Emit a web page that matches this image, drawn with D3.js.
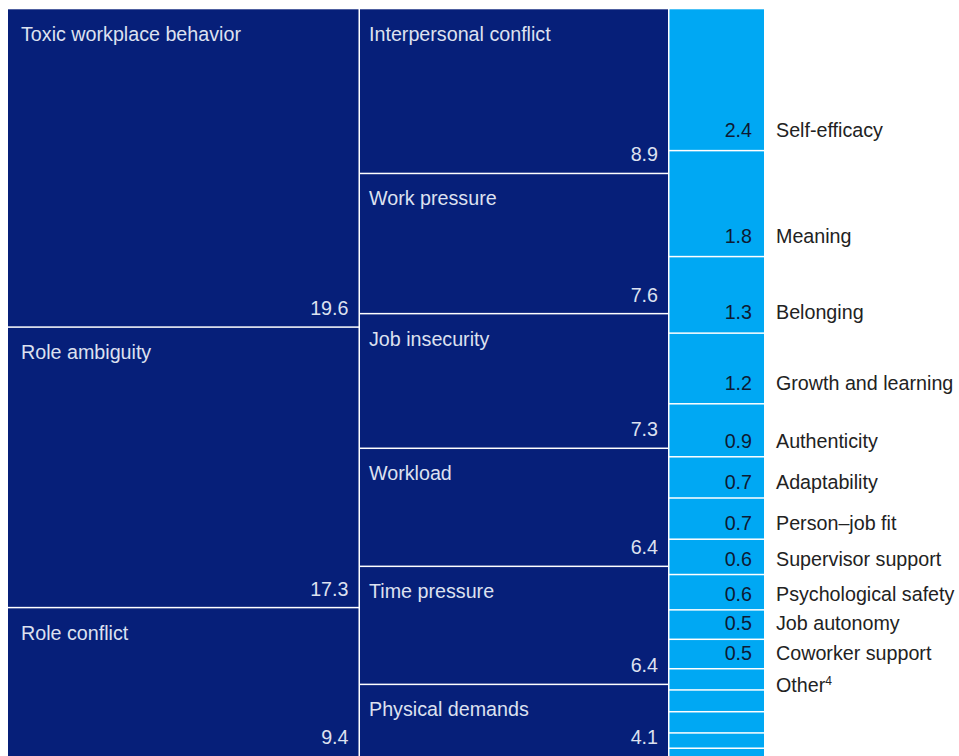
<!DOCTYPE html>
<html>
<head>
<meta charset="utf-8">
<script src="https://cdn.jsdelivr.net/npm/d3@7"></script>
<style>
  html, body { margin: 0; padding: 0; background: #ffffff; }
  svg { display: block; font-family: "Liberation Sans", Arial, sans-serif; }
</style>
</head>
<body>
<svg id="chart" width="959" height="756"></svg>
<script>
// Workplace stressors (left), job demands (middle) and resources (right)
const stressorNames  = ["Toxic workplace behavior", "Role ambiguity", "Role conflict"];
const stressorValues = [19.6, 17.3, 9.4];

const demandNames  = ["Interpersonal conflict", "Work pressure", "Job insecurity",
                      "Workload", "Time pressure", "Physical demands"];
const demandValues = [8.9, 7.6, 7.3, 6.4, 6.4, 4.1];

const resourceNames  = ["Self-efficacy", "Meaning", "Belonging", "Growth and learning",
                        "Authenticity", "Adaptability", "Person\u2013job fit",
                        "Supervisor support", "Psychological safety", "Job autonomy",
                        "Coworker support"];
const resourceValues = [2.4, 1.8, 1.3, 1.2, 0.9, 0.7, 0.7, 0.6, 0.6, 0.5, 0.5];

// unlabeled remainder grouped under "Other"
const otherValues = [0.36, 0.37, 0.36, 0.26, 0.2];
const otherLabel = "Other";
const otherNote = "4";

const svg = d3.select("#chart");
const NAVY = "#061f79";
const CYAN = "#00a8f3";
const GAP = 1.5;
const FS = 19.7;
const yTop = 9.3, yBottom = 760;

// each column is stacked to the full height, scaled by its own total
function stackColumn(names, values) {
  const ends = d3.cumsum(values);
  const y = d3.scaleLinear().domain([0, d3.sum(values)]).range([yTop, yBottom]);
  return values.map((v, i) => ({
    name: names ? names[i] : null,
    value: v,
    y0: y(ends[i] - v),
    y1: y(ends[i])
  }));
}

const columns = [
  { x0: 8,     x1: 358.5, fill: NAVY, cells: stackColumn(stressorNames, stressorValues) },
  { x0: 360,   x1: 668,   fill: NAVY, cells: stackColumn(demandNames, demandValues) },
  { x0: 669.5, x1: 764,   fill: CYAN,
    cells: stackColumn(resourceNames.concat(otherValues.map(() => null)),
                       resourceValues.concat(otherValues)) }
];
const nLabeled = resourceValues.length;

columns.forEach((col, ci) => {
  const g = svg.append("g");
  g.selectAll("rect")
    .data(col.cells)
    .join("rect")
    .attr("x", col.x0)
    .attr("width", col.x1 - col.x0)
    .attr("y", (d, i) => d.y0 + (i ? GAP / 2 : 0))
    .attr("height", (d, i) => d.y1 - d.y0 - (i ? GAP / 2 : 0) - GAP / 2)
    .attr("fill", col.fill);

  if (ci < 2) {
    // category name top-left, value bottom-right
    g.selectAll("text.name")
      .data(col.cells)
      .join("text")
      .attr("class", "name")
      .attr("x", col.x0 + (ci === 0 ? 13 : 9))
      .attr("y", d => d.y0 + 32)
      .attr("fill", "#dde1f0")
      .attr("font-size", FS)
      .text(d => d.name);
    g.selectAll("text.val")
      .data(col.cells)
      .join("text")
      .attr("class", "val")
      .attr("x", col.x1 - 10)
      .attr("y", d => Math.min(d.y1, 756) - 12)
      .attr("text-anchor", "end")
      .attr("fill", "#dde1f0")
      .attr("font-size", FS)
      .text(d => d3.format(".1f")(d.value));
  } else {
    const labeled = col.cells.slice(0, nLabeled);
    const base = d => d.y1 - (d.y1 - d.y0 > 60 ? 14 : 9);
    g.selectAll("text.val")
      .data(labeled)
      .join("text")
      .attr("class", "val")
      .attr("x", col.x1 - 12)
      .attr("y", base)
      .attr("text-anchor", "end")
      .attr("fill", "#0d1a33")
      .attr("font-size", FS)
      .text(d => d3.format(".1f")(d.value));
    g.selectAll("text.name")
      .data(labeled)
      .join("text")
      .attr("class", "name")
      .attr("x", col.x1 + 12)
      .attr("y", base)
      .attr("fill", "#222222")
      .attr("font-size", FS)
      .text(d => d.name);
    const firstOther = col.cells[nLabeled];
    const ot = g.append("text")
      .attr("x", col.x1 + 12)
      .attr("y", firstOther.y0 + 23)
      .attr("fill", "#222222")
      .attr("font-size", FS);
    ot.append("tspan").text(otherLabel);
    ot.append("tspan").attr("dy", -7).attr("font-size", 12).text(otherNote);
  }
});
</script>
</body>
</html>
